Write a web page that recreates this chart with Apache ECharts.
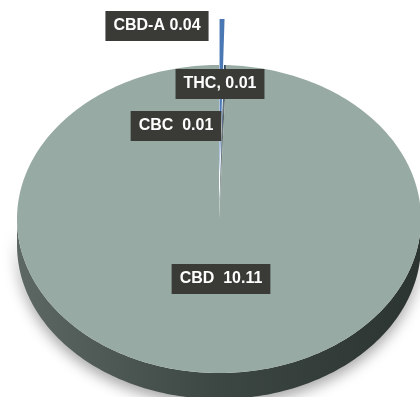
<!DOCTYPE html>
<html>
<head>
<meta charset="utf-8">
<script src="https://cdn.jsdelivr.net/npm/echarts@6/dist/echarts.min.js"></script>
<style>
  html, body { margin: 0; padding: 0; background: #fff; }
  #main { width: 420px; height: 397px; }
</style>
</head>
<body>
<div id="main"></div>
<script>
// data
var names = ['CBD-A', 'THC', 'CBC', 'CBD'];
var values = [0.04, 0.01, 0.01, 10.11];
var labels = ['CBD-A 0.04', 'THC, 0.01', 'CBC  0.01', 'CBD  10.11'];

// layout / style of the tilted pie
var cx = 219, cy = 219, rx = 202, ry = 154, depth = 26;
var sliceColors = ['#4a78b4', '#2f4d6e', '#3a4644', '#97aaa3'];
var explode = [46, 0, 0, 0];
var labelPos = [[157, 26], [220, 84], [176, 126], [221, 279]];

var total = 0;
for (var i = 0; i < values.length; i++) total += values[i];
var angles = [];
var acc = 0;
for (var i = 0; i < values.length; i++) {
  angles.push([acc / total * Math.PI * 2, (acc + values[i]) / total * Math.PI * 2]);
  acc += values[i];
}

// angle measured clockwise from 12 o'clock
function pt(t, ox, oy) {
  return [cx + ox + rx * Math.sin(t), cy + oy - ry * Math.cos(t)];
}
function arc(a0, a1, ox, oy) {
  var n = Math.max(2, Math.ceil((a1 - a0) / 0.02));
  var pts = [];
  for (var k = 0; k <= n; k++) pts.push(pt(a0 + (a1 - a0) * k / n, ox, oy));
  return pts;
}
function offsetOf(idx) {
  var mid = (angles[idx][0] + angles[idx][1]) / 2;
  return [explode[idx] * Math.sin(mid), -explode[idx] * Math.cos(mid)];
}

var chart = echarts.init(document.getElementById('main'));

chart.setOption({
  backgroundColor: '#fff',
  animation: false,
  series: [
    {
      // side wall
      type: 'custom',
      coordinateSystem: 'none',
      z: 1,
      data: values,
      renderItem: function (params, api) {
        var idx = params.dataIndex;
        var a0 = Math.max(angles[idx][0], Math.PI / 2);
        var a1 = Math.min(angles[idx][1], Math.PI * 1.5);
        if (a1 <= a0) return;
        var o = offsetOf(idx);
        var top = arc(a0, a1, o[0], o[1]);
        var bottom = arc(a0, a1, o[0], o[1] + depth).reverse();
        return {
          type: 'polygon',
          shape: { points: top.concat(bottom) },
          style: {
            fill: {
              type: 'linear', x: 1, y: 0, x2: 0, y2: 0,
              colorStops: [
                { offset: 0, color: '#2b3431' },
                { offset: 0.5, color: '#3c4642' },
                { offset: 1, color: '#5d6864' }
              ]
            },
            shadowBlur: 14,
            shadowColor: 'rgba(0,0,0,0.35)',
            shadowOffsetY: 6
          }
        };
      }
    },
    {
      // top face + labels
      type: 'custom',
      coordinateSystem: 'none',
      z: 2,
      data: values,
      renderItem: function (params, api) {
        var idx = params.dataIndex;
        var o = offsetOf(idx);
        var pts = [[cx + o[0], cy + o[1]]].concat(arc(angles[idx][0], angles[idx][1], o[0], o[1]));
        return {
          type: 'group',
          children: [
            {
              type: 'polygon',
              shape: { points: pts },
              style: { fill: sliceColors[idx] }
            },
            {
              type: 'text',
              z2: 100,
              style: {
                text: labels[idx],
                x: labelPos[idx][0],
                y: labelPos[idx][1],
                align: 'center',
                verticalAlign: 'middle',
                fill: '#ffffff',
                font: 'bold 16px "Liberation Sans", Arial, sans-serif',
                backgroundColor: '#3a3a36',
                padding: [7, 8, 7, 8],
                boxShadowBlur: 6,
                boxShadowColor: 'rgba(0,0,0,0.35)',
                boxShadowOffsetX: 2,
                boxShadowOffsetY: 2
              }
            }
          ]
        };
      }
    }
  ]
});
</script>
</body>
</html>
